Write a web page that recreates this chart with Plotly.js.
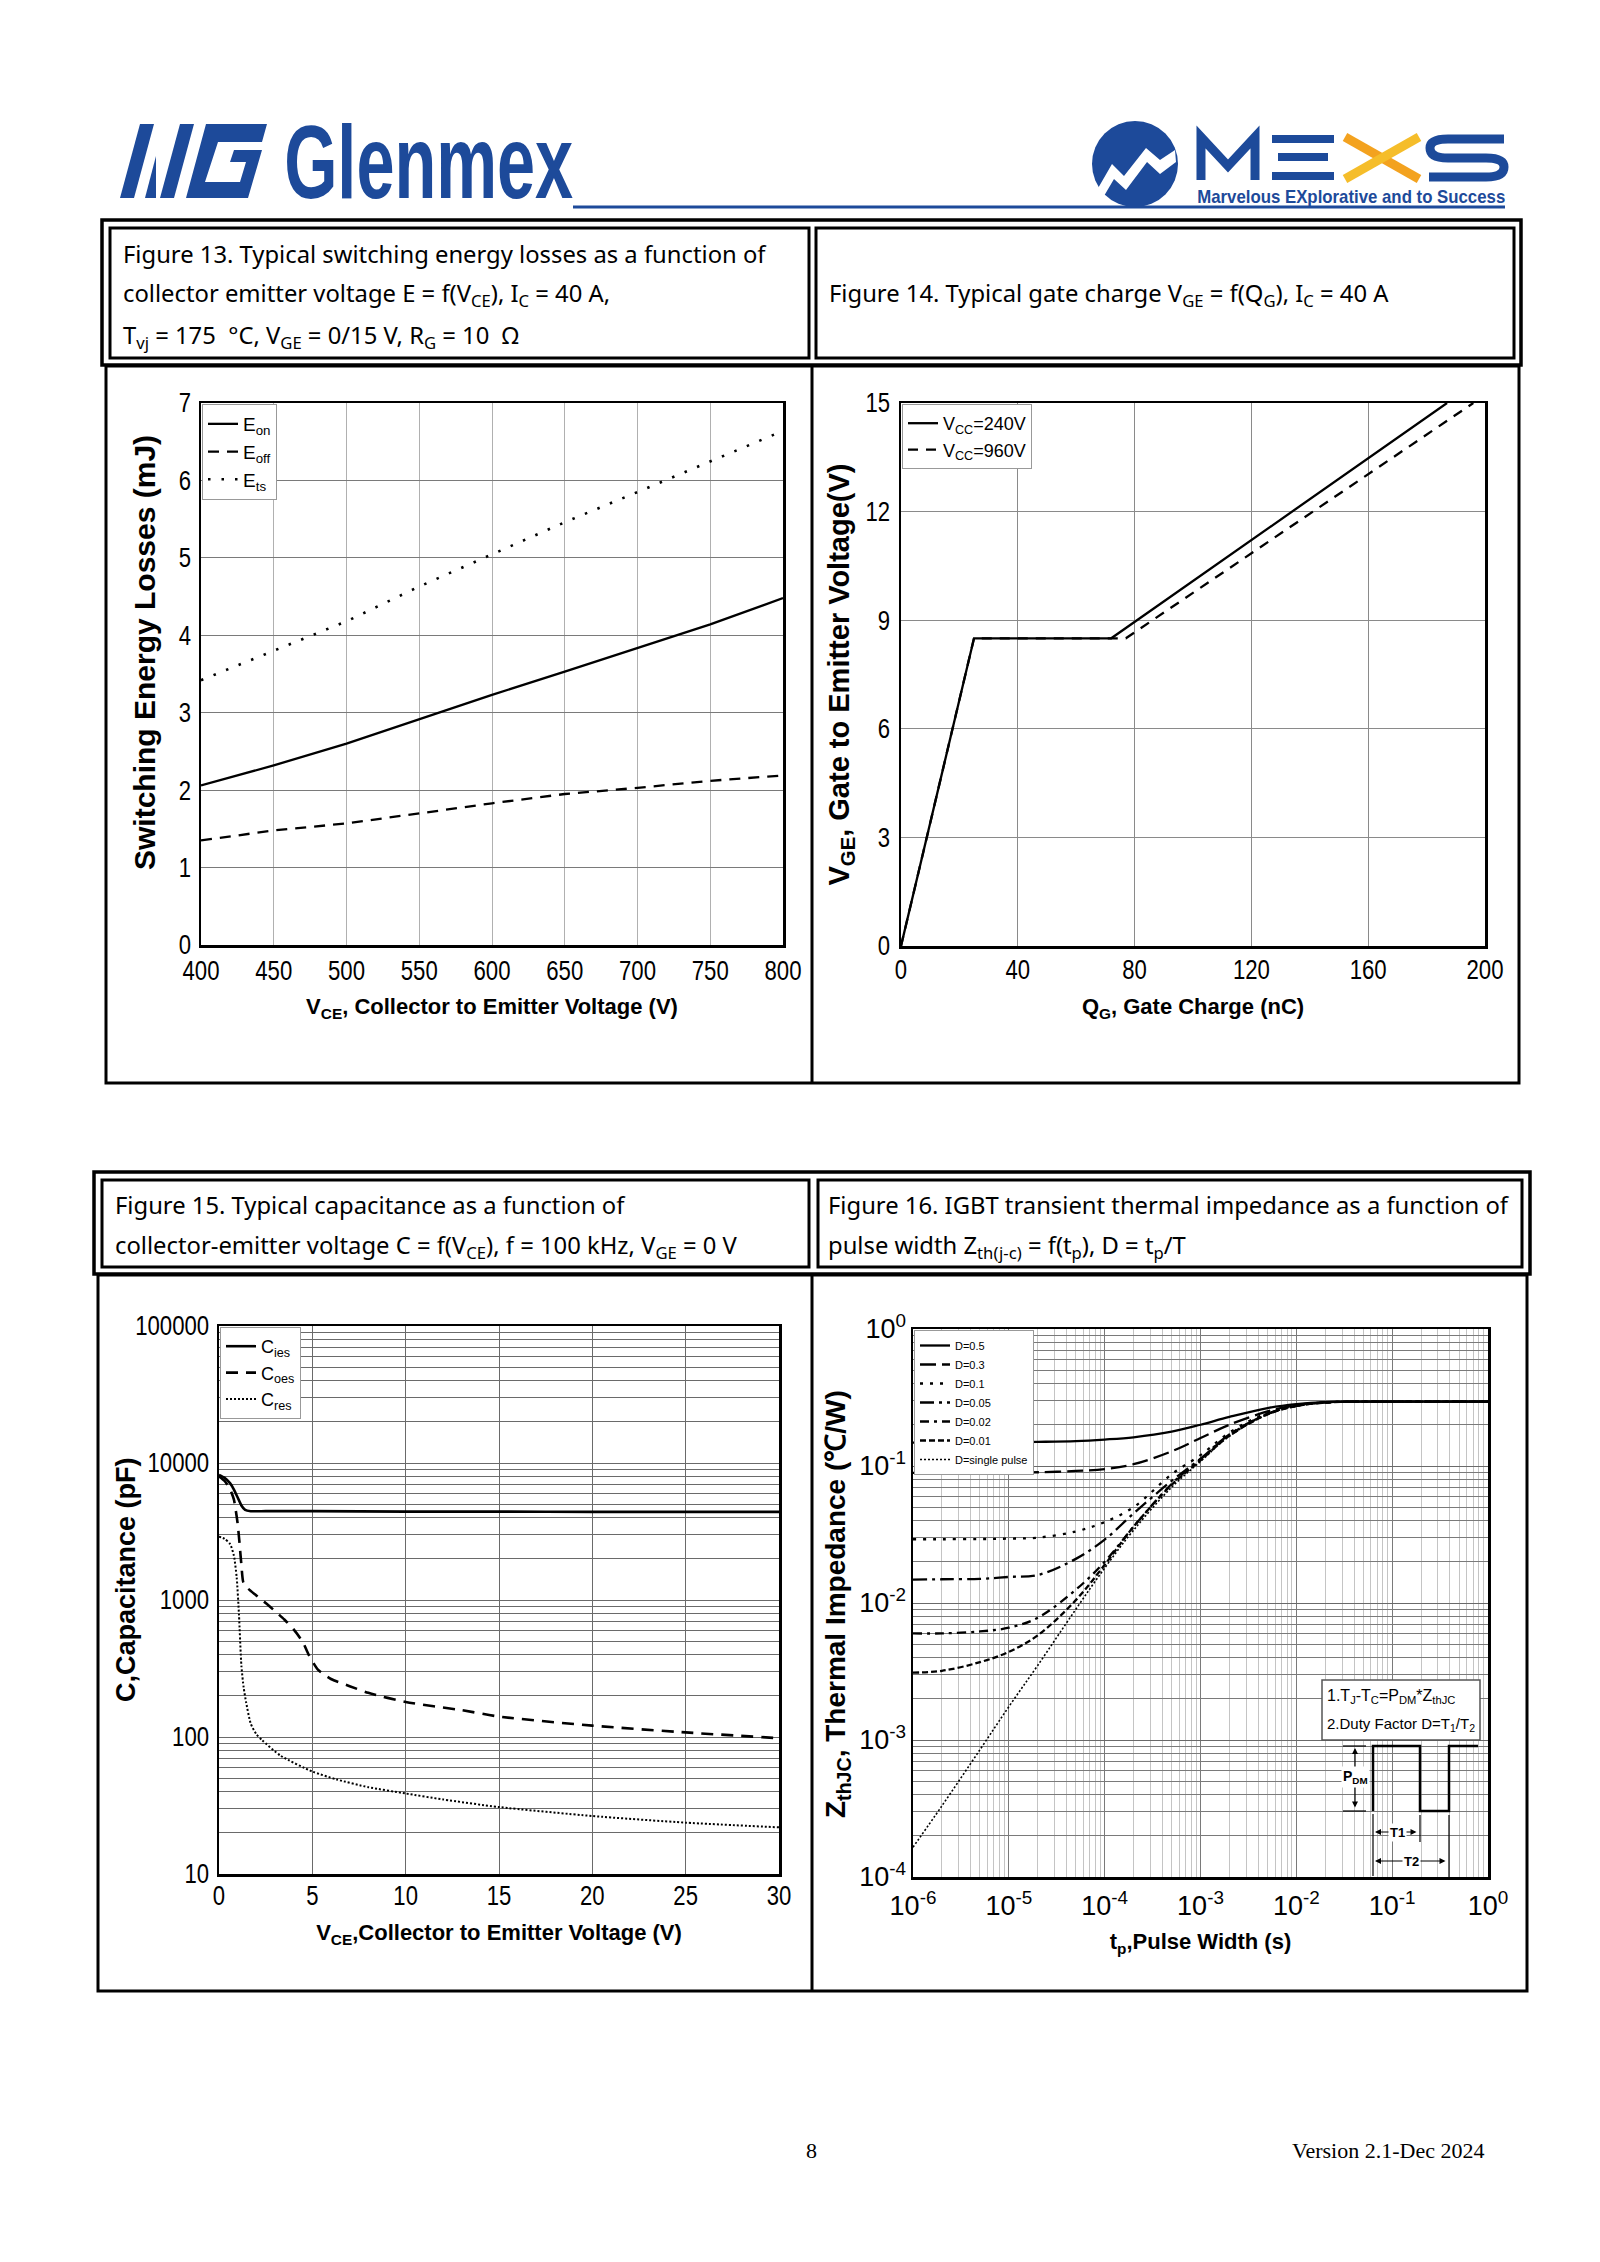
<!DOCTYPE html>
<html><head><meta charset="utf-8">
<script src="https://cdn.plot.ly/plotly-3.0.1.min.js"></script>
<style>html,body{margin:0;padding:0;background:#fff}</style>
</head><body>
<div id="page" style="width:1600px;height:2262px"></div>
<script>
// ---------------- Figure 13 : switching energy vs VCE ----------------
const vce13 = [400, 450, 500, 550, 600, 650, 700, 750, 800];
const eOn   = [2.06, 2.32, 2.60, 2.92, 3.23, 3.53, 3.83, 4.14, 4.48];
const eOff  = [1.35, 1.48, 1.57, 1.70, 1.83, 1.95, 2.03, 2.12, 2.19];
const eTs   = [3.42, 3.80, 4.18, 4.63, 5.04, 5.46, 5.85, 6.25, 6.64];

// ---------------- Figure 14 : gate charge ----------------
const qg240  = [0, 25, 72, 187];
const vge240 = [0, 8.5, 8.5, 15];
const qg960  = [0, 25, 77, 196];
const vge960 = [0, 8.5, 8.5, 15];

// ---------------- Figure 15 : capacitance ----------------
const ciesX = [0, 0.3, 0.6, 0.8, 1.0, 1.2, 1.4, 1.7, 2.5, 5, 10, 15, 20, 25, 30];
const ciesY = [8200, 7800, 7100, 6400, 5600, 4900, 4550, 4450, 4450, 4450, 4420, 4420, 4400, 4400, 4400];
const coesX = [0, 0.3, 0.6, 0.8, 0.9, 1.0, 1.1, 1.2, 1.3, 1.5, 2, 2.5, 3, 3.5, 4, 4.5, 4.8, 5.3, 6, 7, 8, 10, 13, 15, 20, 25, 30];
const coesY = [8000, 7400, 6400, 5400, 4500, 3600, 2600, 1800, 1350, 1230, 1080, 950, 830, 720, 610, 490, 400, 310, 265, 235, 210, 180, 157, 141, 121, 108, 98];
const cresX = [0, 0.3, 0.6, 0.8, 0.95, 1.07, 1.2, 1.32, 1.45, 1.7, 2, 2.3, 3.3, 5, 6.3, 8, 10, 12, 15, 20, 25, 30];
const cresY = [2900, 2800, 2550, 2100, 1450, 780, 330, 230, 180, 125, 105, 95, 73, 56, 49, 43, 38.7, 35, 30.8, 26.5, 23.7, 21.9];
const capTickVals = [10, 100, 1000, 10000, 100000];
const capTickText = ['10', '100', '1000', '10000', '100000'];

// ---------------- Figure 16 : transient thermal impedance ----------------
const tp = [1e-6, 2e-6, 5e-6, 1e-5, 2e-5, 5e-5, 1e-4, 2e-4, 5e-4, 1e-3, 2e-3, 5e-3, 1e-2, 2e-2, 5e-2, 1e-1, 2e-1, 5e-1, 1];
const zD05 = [0.148, 0.148, 0.149, 0.149, 0.150, 0.152, 0.156, 0.162, 0.178, 0.200, 0.228, 0.265, 0.283, 0.293, 0.295, 0.295, 0.295, 0.295, 0.295];
const zD03 = [0.089, 0.089, 0.089, 0.090, 0.090, 0.092, 0.095, 0.103, 0.128, 0.160, 0.200, 0.250, 0.278, 0.292, 0.295, 0.295, 0.295, 0.295, 0.295];
const zD01 = [0.0292, 0.0292, 0.0293, 0.0295, 0.0300, 0.0333, 0.039, 0.050, 0.087, 0.120, 0.175, 0.245, 0.275, 0.291, 0.295, 0.295, 0.295, 0.295, 0.295];
const zD005 = [0.0148, 0.0149, 0.0150, 0.0155, 0.0160, 0.021, 0.029, 0.045, 0.078, 0.113, 0.170, 0.240, 0.275, 0.291, 0.295, 0.295, 0.295, 0.295, 0.295];
const zD002 = [0.0060, 0.0060, 0.0062, 0.0066, 0.0078, 0.0125, 0.020, 0.036, 0.074, 0.112, 0.168, 0.240, 0.275, 0.291, 0.295, 0.295, 0.295, 0.295, 0.295];
const zD001 = [0.0031, 0.0032, 0.0037, 0.0044, 0.0058, 0.0105, 0.019, 0.036, 0.073, 0.110, 0.166, 0.238, 0.274, 0.290, 0.295, 0.295, 0.295, 0.295, 0.295];
const zSingle = [0.000165, 0.00033, 0.00085, 0.00175, 0.0035, 0.009, 0.018, 0.034, 0.070, 0.108, 0.165, 0.238, 0.274, 0.290, 0.295, 0.295, 0.295, 0.295, 0.295];
const tpTickVals = [1e-6, 1e-5, 1e-4, 1e-3, 1e-2, 1e-1, 1];
const tpTickText = ['10<sup>-6</sup>', '10<sup>-5</sup>', '10<sup>-4</sup>', '10<sup>-3</sup>', '10<sup>-2</sup>', '10<sup>-1</sup>', '10<sup>0</sup>'];
const zTickVals = [1e-4, 1e-3, 1e-2, 1e-1, 1];
const zTickText = ['10<sup>-4</sup>', '10<sup>-3</sup>', '10<sup>-2</sup>', '10<sup>-1</sup>', '10<sup>0</sup>'];

// ---------------- page helpers ----------------
const W = 1600, H = 2262;
const px = x => x / W;
const py = y => 1 - y / H;
const NARROW = 'Liberation Sans Narrow, Arial Narrow, Liberation Sans, Arial, sans-serif';
const SANS = 'Liberation Sans, Arial, sans-serif';
const CAP = 'Noto Sans, Open Sans, sans-serif';
const BLUE = '#1d4a9a';

const shapes = [];
const annotations = [];
function rect(x0, y0, x1, y1, w, color, fill) {
  shapes.push({type: 'rect', xref: 'paper', yref: 'paper', x0: px(x0), x1: px(x1), y0: py(y1), y1: py(y0),
    line: {color: color || '#000', width: w}, fillcolor: fill || 'rgba(0,0,0,0)', layer: 'above'});
}
function seg(x0, y0, x1, y1, w, color) {
  shapes.push({type: 'line', xref: 'paper', yref: 'paper', x0: px(x0), x1: px(x1), y0: py(y0), y1: py(y1),
    line: {color: color || '#000', width: w}, layer: 'above'});
}
function poly(pts, fill, stroke, w, closed) {
  let d = pts.map((p, i) => (i ? 'L' : 'M') + px(p[0]).toFixed(5) + ',' + py(p[1]).toFixed(5)).join(' ');
  if (closed !== false) d += ' Z';
  shapes.push({type: 'path', xref: 'paper', yref: 'paper', path: d,
    fillcolor: fill || 'rgba(0,0,0,0)', line: {color: stroke || 'rgba(0,0,0,0)', width: w || 0}, layer: 'above'});
}
function text(t, x, y, opts) {
  opts = opts || {};
  annotations.push(Object.assign({xref: 'paper', yref: 'paper', x: px(x), y: py(y), text: t, showarrow: false,
    xanchor: 'left', yanchor: 'middle', font: {family: CAP, size: 23.8, color: '#000'}}, opts));
}

// ---------------- header logos ----------------
poly([[120,198],[140,124],[154,124],[134,198]], BLUE);
poly([[145,198],[156,156],[156,198]], BLUE);
poly([[160,198],[180,124],[194,124],[174,198]], BLUE);
poly([[186,198],[206,124],[267,124],[262,142],[218,142],[205,182],[240,182],[246,162],[230,162],[234,150],[262,150],[248,198]], BLUE);
text('<b>Glenmex</b>', 428, 162, {xanchor: 'center', font: {family: SANS, size: 104, color: BLUE}});
seg(573, 207, 1505, 207, 3, BLUE);
shapes.push({type: 'circle', xref: 'paper', yref: 'paper', x0: px(1092), x1: px(1178), y0: py(207), y1: py(121),
  fillcolor: BLUE, line: {width: 0}, layer: 'above'});
poly([[1097,190],[1112,164],[1124,176],[1146,148],[1160,160],[1175,150],[1176,162],[1160,174],[1147,162],[1126,190],[1114,179],[1104,196]], '#fff');
poly([[1201,180],[1201,137],[1228,166],[1255,137],[1255,180]], null, BLUE, 9, false);
seg(1272, 139, 1334, 139, 8, BLUE);
seg(1278, 157, 1328, 157, 8, BLUE);
seg(1272, 176, 1334, 176, 8, BLUE);
seg(1345, 137, 1419, 179, 9, '#f3a21f');
seg(1345, 179, 1419, 137, 9, '#f5bd2a');
shapes.push({type: 'path', xref: 'paper', yref: 'paper', layer: 'above', line: {color: BLUE, width: 9},
  path: 'M' + px(1504) + ',' + py(139) + ' L' + px(1448) + ',' + py(139) + ' Q' + px(1430) + ',' + py(139) + ' ' + px(1430) + ',' + py(148) +
        ' Q' + px(1430) + ',' + py(158) + ' ' + px(1448) + ',' + py(158) + ' L' + px(1486) + ',' + py(158) +
        ' Q' + px(1504) + ',' + py(158) + ' ' + px(1504) + ',' + py(167) + ' Q' + px(1504) + ',' + py(177) + ' ' + px(1486) + ',' + py(177) +
        ' L' + px(1429) + ',' + py(177)});
text('<b>Marvelous EXplorative and to Success</b>', 1351, 197, {xanchor: 'center', font: {family: SANS, size: 19, color: BLUE}});

// ---------------- frames ----------------
rect(102, 220, 1521, 365, 3.5);
rect(110, 228, 809, 358, 3);
rect(816, 228, 1514, 358, 3);
rect(106, 366, 1519, 1083, 3);
seg(812, 366, 812, 1083, 3);

rect(94, 1172, 1530, 1274, 3.5);
rect(102, 1180, 809, 1267, 3);
rect(818, 1180, 1522, 1267, 3);
rect(98, 1275, 1527, 1991, 3);
seg(812, 1275, 812, 1991, 3);

// ---------------- captions ----------------
text('Figure 13. Typical switching energy losses as a function of', 121, 254);
text('collector emitter voltage E = f(V<sub>CE</sub>), I<sub>C</sub> = 40 A,', 121, 295);
text('T<sub>vj</sub> = 175  °C, V<sub>GE</sub> = 0/15 V, R<sub>G</sub> = 10  Ω', 121, 337);
text('Figure 14. Typical gate charge V<sub>GE</sub> = f(Q<sub>G</sub>), I<sub>C</sub> = 40 A', 827, 294);
text('Figure 15. Typical capacitance as a function of', 113, 1205);
text('collector-emitter voltage C = f(V<sub>CE</sub>), f = 100 kHz, V<sub>GE</sub> = 0 V', 113, 1246);
text('Figure 16. IGBT transient thermal impedance as a function of', 826, 1205);
text('pulse width Z<sub>th(j-c)</sub> = f(t<sub>p</sub>), D = t<sub>p</sub>/T', 826, 1246);

// ---------------- vertical axis titles (placed where the print has them) ----------------
text('<b>Switching Energy Losses (mJ)</b>', 144, 653, {xanchor: 'center', textangle: -90, font: {family: SANS, size: 30, color: '#000'}});
text('<b>C,Capacitance (pF)</b>', 126, 1580, {xanchor: 'center', textangle: -90, font: {family: SANS, size: 27, color: '#000'}});
text('<b>Z<sub>thJC</sub>, Thermal Impedance (℃/W)</b>', 837, 1604, {xanchor: 'center', textangle: -90, font: {family: SANS, size: 28, color: '#000'}});

// ---------------- footer ----------------
text('8', 812, 2150, {xanchor: 'center', font: {family: 'Liberation Serif, Times New Roman, serif', size: 22, color: '#000'}});
text('Version 2.1-Dec 2024', 1486, 2150, {xanchor: 'right', font: {family: 'Liberation Serif, Times New Roman, serif', size: 22, color: '#000'}});

// ---------------- figure 16 inset ----------------
rect(1322, 1680, 1480, 1740, 1.5, '#555', '#fff');
text('1.T<sub>J</sub>-T<sub>C</sub>=P<sub>DM</sub>*Z<sub>thJC</sub>', 1325, 1696, {font: {family: NARROW, size: 16, color: '#000'}});
text('2.Duty Factor D=T<sub>1</sub>/T<sub>2</sub>', 1325, 1724, {font: {family: NARROW, size: 15, color: '#000'}});
poly([[1373,1811],[1373,1746],[1420,1746],[1420,1811],[1449,1811],[1449,1746],[1478,1746]], null, '#000', 2.5, false);
seg(1343, 1746, 1366, 1746, 1.2);
seg(1343, 1811, 1366, 1811, 1.2);
seg(1373, 1814, 1373, 1876, 1.2);
seg(1420, 1815, 1420, 1842, 1.2);
seg(1449, 1815, 1449, 1878, 1.2);
function dblArrow(x, y, dx, dy) {
  annotations.push({xref: 'paper', yref: 'paper', x: px(x), y: py(y), ax: dx, ay: dy, axref: 'pixel', ayref: 'pixel',
    text: '', showarrow: true, arrowhead: 2, arrowside: 'end+start', arrowsize: 1, arrowwidth: 1.2, arrowcolor: '#000'});
}
dblArrow(1355, 1748, 0, 61);
dblArrow(1375, 1832, 43, 0);
dblArrow(1375, 1861, 72, 0);
text('<b>P<sub>DM</sub></b>', 1355, 1777, {xanchor: 'center', bgcolor: '#fff', font: {family: NARROW, size: 14, color: '#000'}});
text('<b>T1</b>', 1397, 1832, {xanchor: 'center', bgcolor: '#fff', font: {family: NARROW, size: 13, color: '#000'}});
text('<b>T2</b>', 1411, 1861, {xanchor: 'center', bgcolor: '#fff', font: {family: NARROW, size: 13, color: '#000'}});

// ---------------- traces ----------------
const K = '#000';
const traces = [
  {x: vce13, y: eOn, xaxis: 'x', yaxis: 'y', mode: 'lines', name: 'E<sub>on</sub>', legend: 'legend', line: {color: K, width: 2.3}},
  {x: vce13, y: eOff, xaxis: 'x', yaxis: 'y', mode: 'lines', name: 'E<sub>off</sub>', legend: 'legend', line: {color: K, width: 2.3, dash: '11px,8px'}},
  {x: vce13, y: eTs, xaxis: 'x', yaxis: 'y', mode: 'lines', name: 'E<sub>ts</sub>', legend: 'legend', line: {color: K, width: 2.6, dash: '2.5px,11px'}},

  {x: qg240, y: vge240, xaxis: 'x2', yaxis: 'y2', mode: 'lines', name: 'V<sub>CC</sub>=240V', legend: 'legend2', line: {color: K, width: 2.3}},
  {x: qg960, y: vge960, xaxis: 'x2', yaxis: 'y2', mode: 'lines', name: 'V<sub>CC</sub>=960V', legend: 'legend2', line: {color: K, width: 2.3, dash: '10px,8px'}},

  {x: ciesX, y: ciesY, xaxis: 'x3', yaxis: 'y3', mode: 'lines', name: 'C<sub>ies</sub>', legend: 'legend3', line: {color: K, width: 2.6, shape: 'spline', smoothing: 0.6}},
  {x: coesX, y: coesY, xaxis: 'x3', yaxis: 'y3', mode: 'lines', name: 'C<sub>oes</sub>', legend: 'legend3', line: {color: K, width: 2.6, dash: '12px,8px', shape: 'spline', smoothing: 0.6}},
  {x: cresX, y: cresY, xaxis: 'x3', yaxis: 'y3', mode: 'lines', name: 'C<sub>res</sub>', legend: 'legend3', line: {color: K, width: 2, dash: '2px,2px', shape: 'spline', smoothing: 0.6}},

  {x: tp, y: zD05, xaxis: 'x4', yaxis: 'y4', mode: 'lines', name: 'D=0.5', legend: 'legend4', line: {color: K, width: 2.3, shape: 'spline'}},
  {x: tp, y: zD03, xaxis: 'x4', yaxis: 'y4', mode: 'lines', name: 'D=0.3', legend: 'legend4', line: {color: K, width: 2.3, dash: '16px,6px', shape: 'spline'}},
  {x: tp, y: zD01, xaxis: 'x4', yaxis: 'y4', mode: 'lines', name: 'D=0.1', legend: 'legend4', line: {color: K, width: 2.3, dash: '3px,7px', shape: 'spline'}},
  {x: tp, y: zD005, xaxis: 'x4', yaxis: 'y4', mode: 'lines', name: 'D=0.05', legend: 'legend4', line: {color: K, width: 2.3, dash: '14px,5px,3px,5px', shape: 'spline'}},
  {x: tp, y: zD002, xaxis: 'x4', yaxis: 'y4', mode: 'lines', name: 'D=0.02', legend: 'legend4', line: {color: K, width: 2.3, dash: '9px,5px,3px,5px', shape: 'spline'}},
  {x: tp, y: zD001, xaxis: 'x4', yaxis: 'y4', mode: 'lines', name: 'D=0.01', legend: 'legend4', line: {color: K, width: 2.3, dash: '6px,3px', shape: 'spline'}},
  {x: tp, y: zSingle, xaxis: 'x4', yaxis: 'y4', mode: 'lines', name: 'D=single pulse', legend: 'legend4', line: {color: K, width: 1.6, dash: '2px,2px', shape: 'spline'}}
];

// ---------------- axes ----------------
const tickF = {family: NARROW, size: 27, color: '#000'};
function ax(d0, d1, extra) {
  return Object.assign({domain: [d0, d1], showline: true, mirror: true, linecolor: '#000', linewidth: 2.5,
    ticks: '', ticklen: 0, zeroline: false, showgrid: true, gridcolor: '#8a8a8a', gridwidth: 1,
    tickfont: tickF, automargin: false, ticklabelstandoff: 0, fixedrange: true}, extra);
}
const legendBase = {xanchor: 'left', yanchor: 'top', bgcolor: '#fff', bordercolor: '#999', borderwidth: 1, tracegroupgap: 0, itemwidth: 30};
const layout = {
  width: W, height: H, margin: {l: 0, r: 0, t: 0, b: 0}, paper_bgcolor: '#fff', plot_bgcolor: '#fff',
  showlegend: true, shapes: shapes, annotations: annotations,
  xaxis: ax(px(201), px(783), {anchor: 'y', range: [400, 800], dtick: 50, tick0: 400, gridcolor: '#b0b0b0', ticklabelstandoff: 0,
    title: {text: '<b>V<sub>CE</sub>, Collector to Emitter Voltage (V)</b>', font: {family: NARROW, size: 22, color: '#000'}, standoff: 14}}),
  yaxis: ax(py(945), py(403), {anchor: 'x', range: [0, 7], dtick: 1, gridcolor: '#7a7a7a', ticklabelstandoff: 2}),
  xaxis2: ax(px(901), px(1485), {anchor: 'y2', range: [0, 200], dtick: 40, ticklabelstandoff: -2,
    title: {text: '<b>Q<sub>G</sub>, Gate Charge (nC)</b>', font: {family: NARROW, size: 22, color: '#000'}, standoff: 15}}),
  yaxis2: ax(py(946), py(403), {anchor: 'x2', range: [0, 15], dtick: 3, ticklabelstandoff: 3,
    title: {text: '<b>V<sub>GE</sub>, Gate to Emitter Voltage(V)</b>', font: {family: SANS, size: 29, color: '#000'}, standoff: 2}}),
  xaxis3: ax(px(219), px(779), {anchor: 'y3', range: [0, 30], dtick: 5, gridcolor: '#6a6a6a', ticklabelstandoff: -4,
    title: {text: '<b>V<sub>CE</sub>,Collector to Emitter Voltage (V)</b>', font: {family: NARROW, size: 22, color: '#000'}, standoff: 15}}),
  yaxis3: ax(py(1874), py(1326), {anchor: 'x3', type: 'log', range: [1, 5], tickmode: 'array', tickvals: capTickVals, ticktext: capTickText,
    gridcolor: '#6a6a6a', ticklabelstandoff: 2, minor: {dtick: 'D1', showgrid: true, gridcolor: '#6a6a6a', gridwidth: 1, ticks: ''}}),
  xaxis4: ax(px(913), px(1488), {anchor: 'y4', type: 'log', range: [-6, 0], tickmode: 'array', tickvals: tpTickVals, ticktext: tpTickText,
    gridcolor: '#7a7a7a', ticklabelstandoff: 3, minor: {dtick: 'D1', showgrid: true, gridcolor: '#c4c4c4', gridwidth: 1, ticks: ''},
    title: {text: '<b>t<sub>p</sub>,Pulse Width (s)</b>', font: {family: NARROW, size: 22, color: '#000'}, standoff: 14}}),
  yaxis4: ax(py(1877), py(1329), {anchor: 'x4', type: 'log', range: [-4, 0], tickmode: 'array', tickvals: zTickVals, ticktext: zTickText,
    gridcolor: '#6a6a6a', ticklabelstandoff: -1, minor: {dtick: 'D1', showgrid: true, gridcolor: '#7a7a7a', gridwidth: 1, ticks: ''}}),
  legend: Object.assign({x: px(202), y: py(404), font: {family: NARROW, size: 19, color: '#000'}}, legendBase),
  legend2: Object.assign({x: px(902), y: py(404), font: {family: NARROW, size: 18, color: '#000'}}, legendBase),
  legend3: Object.assign({x: px(220), y: py(1327), font: {family: NARROW, size: 18, color: '#000'}}, legendBase),
  legend4: Object.assign({x: px(914), y: py(1330), font: {family: NARROW, size: 11, color: '#000'}}, legendBase)
};

Plotly.newPlot('page', traces, layout, {displayModeBar: false, staticPlot: true}).then(gd => {
  // printed logotype and plain numeric tick labels use a condensed face: narrow the rendered glyphs to match
  gd.querySelectorAll('text.annotation-text').forEach(t => {
    if (t.textContent === 'Glenmex') { t.setAttribute('textLength', '289'); t.setAttribute('lengthAdjust', 'spacingAndGlyphs'); }
    if (t.textContent === 'Marvelous EXplorative and to Success') { t.setAttribute('textLength', '308'); t.setAttribute('lengthAdjust', 'spacingAndGlyphs'); }
  });
  gd.querySelectorAll('.xaxislayer-above text, .yaxislayer-above text').forEach(t => {
    if (t.querySelector('tspan')) return;
    const L = t.getComputedTextLength();
    if (L > 0) { t.setAttribute('textLength', (L * 0.82).toFixed(1)); t.setAttribute('lengthAdjust', 'spacingAndGlyphs'); }
  });
});
</script>
</body></html>
